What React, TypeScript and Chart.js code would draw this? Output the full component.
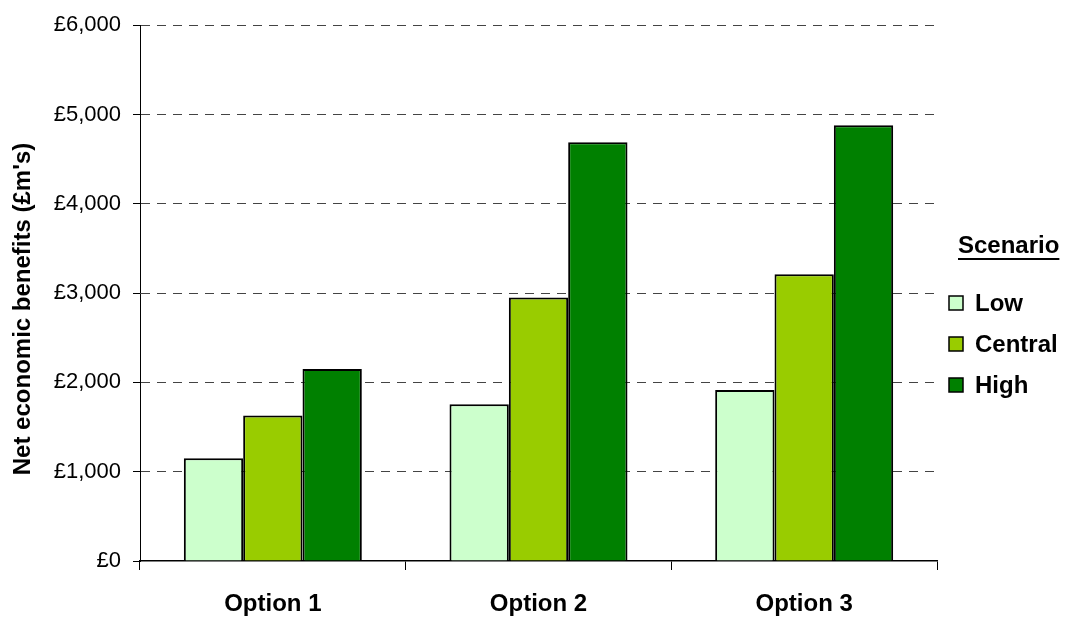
import React, { useEffect, useRef } from "react";
import { Chart, registerables } from "chart.js";

Chart.register(...registerables);

const categories = ["Option 1", "Option 2", "Option 3"];
const lowValues = [1150, 1755, 1915];
const centralValues = [1630, 2950, 3210];
const highValues = [2150, 4690, 4880];
const seriesNames = ["Low", "Central", "High"];
const seriesColors = ["#CCFFCC", "#99CC00", "#008000"];
const yTickMax = 6000;
const yTickStep = 1000;
const yTitle = "Net economic benefits (£m's)";
const legendTitle = "Scenario";

const FONT = "'Liberation Sans', Arial, sans-serif";

const overlayPlugin = {
  id: "overlay",
  afterDraw(chart: any) {
    const ctx = chart.ctx;
    ctx.save();
    // Y axis title
    ctx.fillStyle = "#000";
    ctx.font = `bold 24px ${FONT}`;
    ctx.textAlign = "center";
    ctx.textBaseline = "middle";
    ctx.translate(23, 309);
    ctx.rotate(-Math.PI / 2);
    ctx.fillText(yTitle, 0, 0);
    ctx.restore();

    // Legend
    ctx.save();
    ctx.fillStyle = "#000";
    ctx.font = `bold 24px ${FONT}`;
    ctx.textAlign = "left";
    ctx.textBaseline = "middle";
    const tx = 958;
    ctx.fillText(legendTitle, tx, 246);
    const tw = ctx.measureText(legendTitle).width;
    ctx.fillRect(tx, 258, tw, 2);
    const ys = [303, 344, 385];
    seriesNames.forEach((name, i) => {
      const y = ys[i];
      ctx.fillStyle = seriesColors[i];
      ctx.fillRect(949, y - 7, 14, 14);
      ctx.strokeStyle = "#000";
      ctx.lineWidth = 1.5;
      ctx.strokeRect(949, y - 7, 14, 14);
      ctx.fillStyle = "#000";
      ctx.fillText(name, 975, y + 1);
    });
    ctx.restore();
  },
};

export default function App() {
  const canvasRef = useRef<HTMLCanvasElement | null>(null);

  useEffect(() => {
    const canvas = canvasRef.current;
    if (!canvas) return;
    const datasets = [lowValues, centralValues, highValues].map((vals, i) => ({
      label: seriesNames[i],
      data: vals,
      backgroundColor: seriesColors[i],
      borderColor: "#000",
      borderWidth: 2,
      borderSkipped: "bottom" as const,
      categoryPercentage: 0.67,
      barPercentage: 1.0,
    }));
    const chart = new Chart(canvas, {
      type: "bar",
      data: { labels: categories, datasets },
      options: {
        animation: false,
        responsive: false,
        maintainAspectRatio: false,
        layout: { padding: { top: 25, right: 137, left: 0, bottom: 0 } },
        plugins: {
          legend: { display: false },
          tooltip: { enabled: false },
          title: { display: false },
        },
        scales: {
          x: {
            afterFit: (s: any) => {
              s.height = 58;
            },
            grid: {
              offset: true,
              drawOnChartArea: false,
              tickLength: 9,
              color: "#000",
              lineWidth: 1,
            },
            border: { display: true, color: "#000", width: 1.5 },
            ticks: {
              color: "#000",
              padding: 20,
              font: { family: FONT, size: 24, weight: "bold" },
            },
          },
          y: {
            min: 0,
            max: yTickMax,
            afterFit: (s: any) => {
              s.width = 140;
            },
            grid: {
              color: (c: any) => (c.tick && c.tick.value === 0 ? "rgba(0,0,0,0)" : "#444"),
              tickColor: "#000",
              tickBorderDash: [],
              tickLength: 7,
              lineWidth: 1,
            },
            border: { display: true, color: "#000", width: 1, dash: [9, 7] },
            ticks: {
              stepSize: yTickStep,
              color: "#000",
              padding: 12,
              font: { family: FONT, size: 22 },
              callback: (v: any) => "£" + Number(v).toLocaleString("en-GB"),
            },
          },
        },
      },
      plugins: [overlayPlugin],
    });
    return () => chart.destroy();
  }, []);

  return (
    <div style={{ position: "fixed", left: 0, top: 0, width: 1074, height: 619, background: "#fff" }}>
      <canvas ref={canvasRef} width={1074} height={619} style={{ width: 1074, height: 619 }} />
    </div>
  );
}
